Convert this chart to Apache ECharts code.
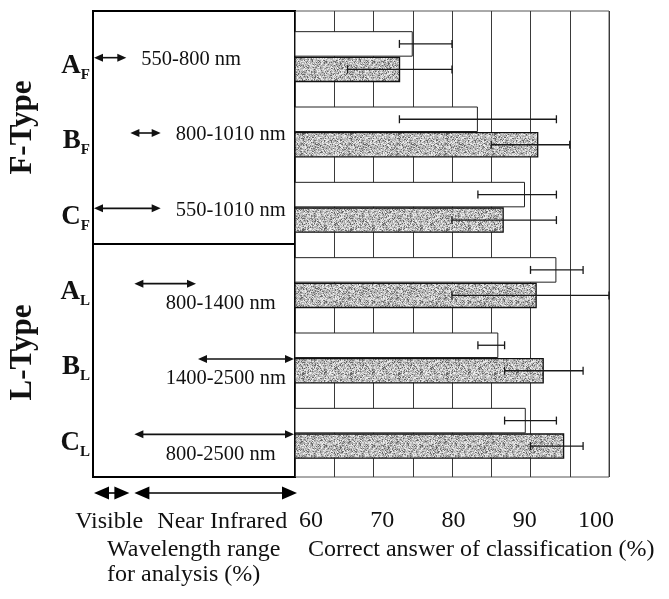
<!DOCTYPE html>
<html><head><meta charset="utf-8">
<script src="https://cdn.jsdelivr.net/npm/echarts@6/dist/echarts.min.js"></script>
<style>html,body{margin:0;padding:0;background:#fff}#c{width:669px;height:599px}</style>
</head><body><div id="c"></div>
<script>
// ---------------- data ----------------
const rowCategories = ['A_F', 'B_F', 'C_F', 'A_L', 'B_L', 'C_L'];
const typeGroups = ['F-Type', 'L-Type'];
const whiteValues   = [75.0, 83.3, 89.3, 93.3, 85.9, 89.4];
const whiteErrLow   = [73.3, 73.3, 83.3, 90.0, 83.3, 86.7];
const whiteErrHigh  = [80.0, 93.3, 93.3, 96.7, 86.7, 93.3];
const shadedValues  = [73.4, 91.0, 86.6, 90.8, 91.7, 94.3];
const shadedErrLow  = [66.7, 85.0, 80.0, 80.0, 86.7, 90.0];
const shadedErrHigh = [80.0, 95.0, 93.3, 100.0, 96.7, 96.7];
const rangeLabels = ['550-800 nm', '800-1010 nm', '550-1010 nm', '800-1400 nm', '1400-2500 nm', '800-2500 nm'];
const rangeStart  = [0, 18, 0, 20, 51.5, 20];     // % of the wavelength panel
const rangeEnd    = [17, 34, 34, 51.5, 100, 100];
const spectrumNames = ['Visible', 'Near Infrared'];
const spectrumStart = [0, 20];
const spectrumEnd   = [18, 101];
const xTickLabels = [60, 70, 80, 90, 100];
const xAxisTitle = 'Correct answer of classification (%)';
const leftAxisTitle = ['Wavelength range', 'for analysis (%)'];

// ---------------- layout / style ----------------
const SERIF = '"Liberation Serif","Times New Roman",serif';
const BAR_W = 25.5;
const SPECTRUM_LABEL_CENTER = [8, 64];   // % positions of Visible / NIR names
const L_LABEL_LEFT = 36;                 // % position of L-type range labels

function speckle() {
  const n = 48, c = document.createElement('canvas');
  c.width = c.height = n;
  const ctx = c.getContext('2d');
  const img = ctx.createImageData(n, n);
  let s = 987654321;
  for (let i = 0; i < n * n; i++) {
    s = (s * 1103515245 + 12345) & 0x7fffffff;
    const r = (s >> 8) % 1000;
    let v;
    if (r < 180) v = 95 + (r % 40);
    else if (r < 600) v = 160 + (r % 30);
    else v = 200 + (r % 45);
    img.data[i * 4] = v; img.data[i * 4 + 1] = v; img.data[i * 4 + 2] = v; img.data[i * 4 + 3] = 255;
  }
  ctx.putImageData(img, 0, 0);
  return c;
}

function arrowChildren(x1, x2, y, head, halfH, lw, color) {
  const lx1 = x1 + head * 0.7, lx2 = x2 - head * 0.7;
  const out = [];
  if (lx2 > lx1) out.push({ type: 'line', shape: { x1: lx1, y1: y, x2: lx2, y2: y }, style: { stroke: color, lineWidth: lw } });
  out.push({ type: 'polygon', shape: { points: [[x1, y], [x1 + head, y - halfH], [x1 + head, y + halfH]] }, style: { fill: color } });
  out.push({ type: 'polygon', shape: { points: [[x2, y], [x2 - head, y - halfH], [x2 - head, y + halfH]] }, style: { fill: color } });
  return out;
}

const chart = echarts.init(document.getElementById('c'), null, { renderer: 'canvas' });
const pattern = { image: speckle(), repeat: 'repeat' };
const gridStep = (xTickLabels[1] - xTickLabels[0]) / 2;
const typeLabelStyle = { fontFamily: SERIF, fontWeight: 'bold', fontSize: 31, color: '#111' };

const option = {
  animation: false,
  backgroundColor: '#fff',
  grid: [
    { left: 295, top: 11, width: 314, height: 466, show: true, borderColor: '#555', borderWidth: 1 },   // 0 bar gridlines
    { left: 93, top: 11, width: 202, height: 466, show: true, borderColor: '#000', borderWidth: 2 },     // 1 wavelength box
    { left: 295, top: 19, width: 314, height: 452 },                                                      // 2 bars
    { left: 93, top: 19, width: 202, height: 452 },                                                       // 3 ranges
    { left: 93, top: 486, width: 202, height: 14 },                                                       // 4 spectrum arrows
    { left: 311, top: 400, width: 285, height: 100 }                                                      // 5 tick labels
  ],
  xAxis: [
    { gridIndex: 0, type: 'value', min: xTickLabels[0], max: xTickLabels[xTickLabels.length - 1], interval: gridStep,
      axisLine: { show: false }, axisTick: { show: false }, axisLabel: { show: false },
      splitLine: { show: true, lineStyle: { color: '#3a3a3a', width: 1 } } },
    { gridIndex: 1, type: 'value', show: false, min: 0, max: 100 },
    { gridIndex: 2, type: 'value', show: false, min: xTickLabels[0], max: xTickLabels[xTickLabels.length - 1] },
    { gridIndex: 3, type: 'value', show: false, min: 0, max: 100 },
    { gridIndex: 4, type: 'value', show: false, min: 0, max: 100 },
    { gridIndex: 5, type: 'value', min: xTickLabels[0], max: xTickLabels[xTickLabels.length - 1], interval: xTickLabels[1] - xTickLabels[0],
      axisLine: { show: false }, axisTick: { show: false }, splitLine: { show: false },
      axisLabel: { margin: 9, fontFamily: SERIF, fontSize: 24, color: '#111' } }
  ],
  yAxis: [
    { gridIndex: 0, type: 'value', show: false, splitLine: { show: false } },
    { gridIndex: 1, type: 'category', data: typeGroups, inverse: true,
      axisLine: { show: false }, axisTick: { show: false },
      splitLine: { show: true, lineStyle: { color: '#000', width: 2 } },
      axisLabel: { rotate: 90, margin: 55,
        formatter: v => (v === typeGroups[1] ? '{l|' + v + '}' : '{f|' + v + '}'),
        rich: {
          f: Object.assign({}, typeLabelStyle),
          l: Object.assign({ padding: [0, 0, 0, 16] }, typeLabelStyle)
        } } },
    { gridIndex: 2, type: 'category', data: rowCategories, inverse: true, show: false },
    { gridIndex: 3, type: 'category', data: rowCategories, inverse: true,
      axisLine: { show: false }, axisTick: { show: false }, splitLine: { show: false },
      axisLabel: {
        margin: 3, padding: [22, 0, 0, 0],
        formatter: v => { const p = v.split('_'); return '{m|' + p[0] + '}{s|' + p[1] + '}'; },
        rich: {
          m: { fontFamily: SERIF, fontWeight: 'bold', fontSize: 27, color: '#111', lineHeight: 30, verticalAlign: 'top' },
          s: { fontFamily: SERIF, fontWeight: 'bold', fontSize: 15, color: '#111', lineHeight: 30, verticalAlign: 'bottom' }
        }
      } },
    { gridIndex: 4, type: 'category', data: ['spectrum'], show: false },
    { gridIndex: 5, type: 'value', show: false }
  ],
  series: [
    { name: 'White bars', type: 'bar', xAxisIndex: 2, yAxisIndex: 2, data: whiteValues,
      barWidth: BAR_W, barGap: '0%',
      itemStyle: { color: '#fff', borderColor: '#222', borderWidth: 1 } },
    { name: 'Shaded bars', type: 'bar', xAxisIndex: 2, yAxisIndex: 2, data: shadedValues,
      barWidth: BAR_W, barGap: '0%',
      itemStyle: { color: pattern, borderColor: '#111', borderWidth: 1.3 } },
    { name: 'Error bars', type: 'custom', xAxisIndex: 2, yAxisIndex: 2, z: 5,
      data: rowCategories.flatMap((c, i) => [[whiteErrLow[i], whiteErrHigh[i], i, 0], [shadedErrLow[i], shadedErrHigh[i], i, 1]]),
      renderItem: (params, api) => {
        const a = api.coord([api.value(0), api.value(2)]);
        const b = api.coord([api.value(1), api.value(2)]);
        const y = a[1] + (api.value(3) === 0 ? -BAR_W / 2 : BAR_W / 2);
        const st = { stroke: '#1a1a1a', lineWidth: 1.3 };
        return { type: 'group', children: [
          { type: 'line', shape: { x1: a[0], y1: y, x2: b[0], y2: y }, style: st },
          { type: 'line', shape: { x1: a[0], y1: y - 4, x2: a[0], y2: y + 4 }, style: st },
          { type: 'line', shape: { x1: b[0], y1: y - 4, x2: b[0], y2: y + 4 }, style: st }
        ] };
      } },
    { name: 'Wavelength ranges', type: 'custom', xAxisIndex: 3, yAxisIndex: 3, z: 5,
      data: rowCategories.map((c, i) => [rangeStart[i], rangeEnd[i], i]),
      renderItem: (params, api) => {
        const i = params.dataIndex;
        const a = api.coord([api.value(0), api.value(2)]);
        const b = api.coord([api.value(1), api.value(2)]);
        const y = a[1] + 1;
        const ch = arrowChildren(a[0] + 1, b[0] - 1, y, 9, 4, 1.6, '#111');
        const lBelow = rowCategories[i].endsWith('_L');
        const tx = lBelow ? api.coord([L_LABEL_LEFT, i])[0] : b[0] + 14;
        const ty = lBelow ? y + 20 : y + 2;
        ch.push({ type: 'text', x: tx, y: ty,
          style: { text: rangeLabels[i], fill: '#111', font: '20.5px ' + SERIF, align: 'left', verticalAlign: 'middle' } });
        return { type: 'group', children: ch };
      } },
    { name: 'Spectrum', type: 'custom', xAxisIndex: 4, yAxisIndex: 4, z: 5,
      data: spectrumNames.map((n, i) => [spectrumStart[i], spectrumEnd[i], 0]),
      renderItem: (params, api) => {
        const i = params.dataIndex;
        const a = api.coord([api.value(0), 0]);
        const b = api.coord([api.value(1), 0]);
        const y = a[1];
        const ch = arrowChildren(a[0] + 1, b[0], y, 15, 6.5, 1.6, '#000');
        const cx = api.coord([SPECTRUM_LABEL_CENTER[i], 0])[0];
        ch.push({ type: 'text', x: cx, y: y + 29,
          style: { text: spectrumNames[i], fill: '#111', font: '24px ' + SERIF, align: 'center', verticalAlign: 'middle' } });
        return { type: 'group', children: ch };
      } }
  ],
  graphic: [
    { type: 'text', left: 107, top: 537, style: { text: leftAxisTitle.join('\n'), font: '24px ' + SERIF, fill: '#111', lineHeight: 25 } },
    { type: 'text', left: 308, top: 537, style: { text: xAxisTitle, font: '24px ' + SERIF, fill: '#111', lineHeight: 25 } }
  ]
};
chart.setOption(option);
</script>
</body></html>
